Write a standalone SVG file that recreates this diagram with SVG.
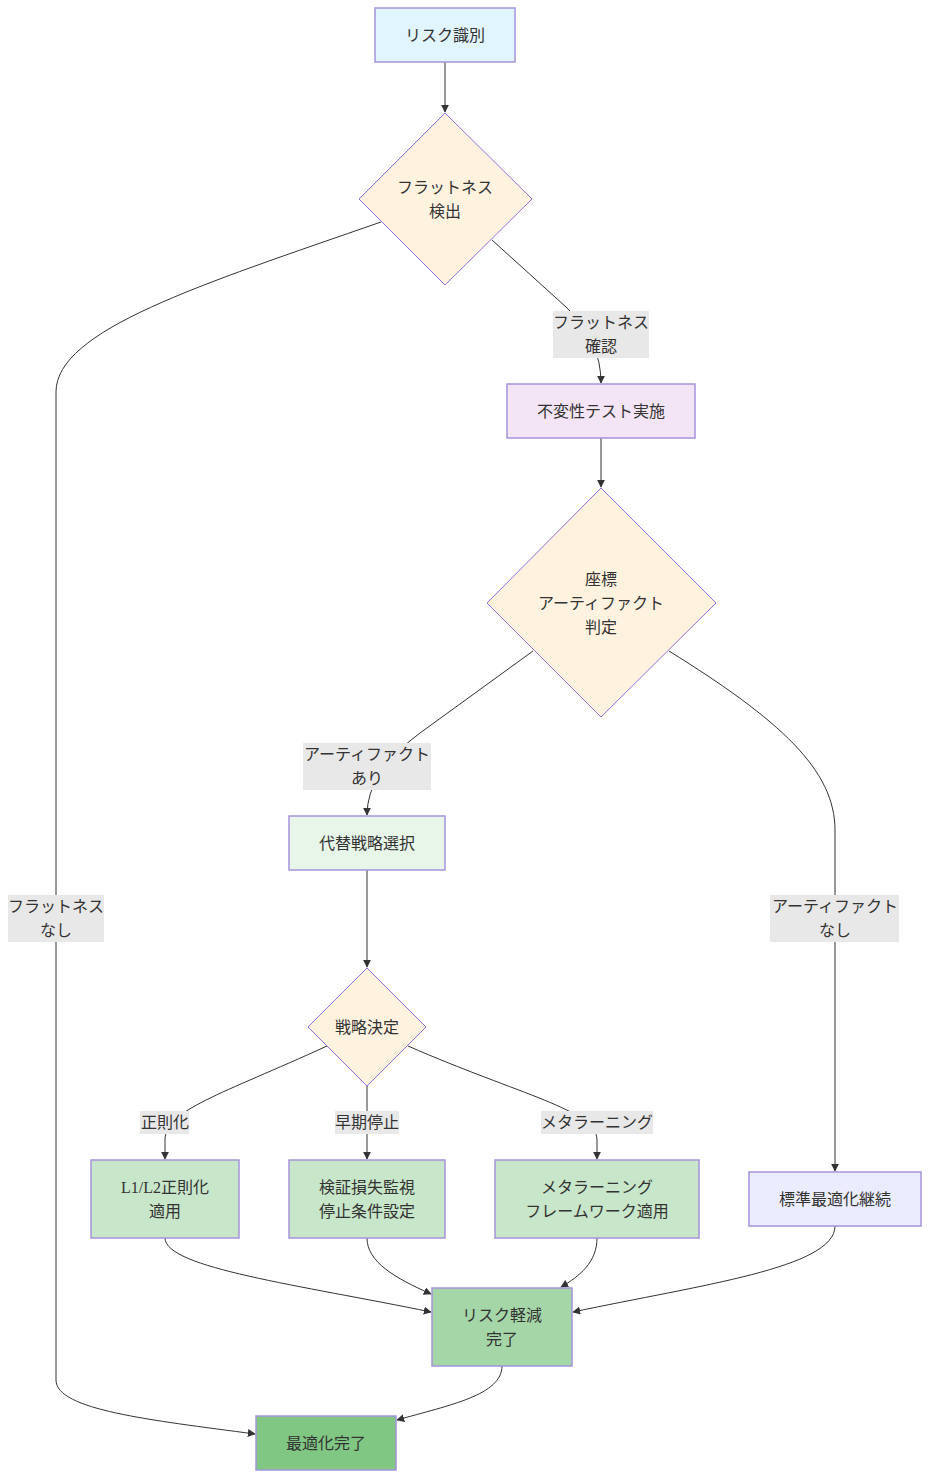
<svg xmlns="http://www.w3.org/2000/svg" width="929" height="1478" viewBox="0 0 929 1478">
<defs>
<marker id="arr" viewBox="0 0 10 10" refX="9" refY="5" markerWidth="8" markerHeight="8" markerUnits="userSpaceOnUse" orient="auto">
<path d="M0,0 L10,5 L0,10 z" fill="#333"/>
</marker>
<style>
text{font-family:"Liberation Serif","Noto Sans CJK JP",serif;font-size:16px;fill:#333;text-anchor:middle;dominant-baseline:central}
.n{stroke:#a693dc;stroke-width:1.5}
polygon.n{stroke:#9370DB;stroke-width:1}
.e{fill:none;stroke:#333;stroke-width:1;marker-end:url(#arr)}
.lb{fill:#e8e8e8}
</style>
</defs>
<rect width="929" height="1478" fill="#fff"/>
<g id="edges">
<path class="e" d="M445,62 L445,112"/>
<path class="e" d="M492,240 L566,307 Q601,340 601,383"/>
<path class="e" d="M381,222 C200,285 56,330 56,392 L56,1380 C56,1410 150,1420 255,1434"/>
<path class="e" d="M601,438 L601,487"/>
<path class="e" d="M533,651 L420,733 Q367,772 367,815"/>
<path class="e" d="M669,651 C780,720 835,770 835,830 L835,1171"/>
<path class="e" d="M367,870 L367,967"/>
<path class="e" d="M327,1046 C220,1095 165,1110 165,1140 L165,1159"/>
<path class="e" d="M367,1086 L367,1159"/>
<path class="e" d="M408,1046 C520,1095 597,1110 597,1140 L597,1159"/>
<path class="e" d="M165,1238 C165,1268 300,1285 431,1312"/>
<path class="e" d="M367,1238 C367,1262 395,1278 431,1294"/>
<path class="e" d="M597,1238 C597,1262 580,1276 561,1287"/>
<path class="e" d="M835,1226 C835,1268 700,1285 573,1312"/>
<path class="e" d="M502,1366 C502,1395 450,1405 397,1420"/>
</g>
<g id="edge-labels">
<rect class="lb" x="553" y="311" width="96" height="47"/>
<text x="601" y="322">フラットネス</text><text x="601" y="346">確認</text>
<rect class="lb" x="303" y="743" width="128" height="47"/>
<text x="367" y="754">アーティファクト</text><text x="367" y="778">あり</text>
<rect class="lb" x="770" y="895" width="129" height="47"/>
<text x="835" y="906">アーティファクト</text><text x="835" y="930">なし</text>
<rect class="lb" x="8" y="895" width="96" height="47"/>
<text x="56" y="906">フラットネス</text><text x="56" y="930">なし</text>
<rect class="lb" x="140" y="1111" width="49" height="23"/>
<text x="165" y="1122">正則化</text>
<rect class="lb" x="335" y="1111" width="64" height="23"/>
<text x="367" y="1122">早期停止</text>
<rect class="lb" x="541" y="1111" width="112" height="23"/>
<text x="597" y="1122">メタラーニング</text>
</g>
<g id="n-risk"><rect class="n" x="375" y="8" width="140" height="54" fill="#e1f5fe"/><text x="445" y="35">リスク識別</text></g>
<g id="n-flat"><polygon class="n" points="445,113 532,199 445,285 359,199" fill="#fff3e0"/><text x="445" y="187">フラットネス</text><text x="445" y="211">検出</text></g>
<g id="n-inv"><rect class="n" x="507" y="384" width="188" height="54" fill="#f3e5f5"/><text x="601" y="411">不変性テスト実施</text></g>
<g id="n-art"><polygon class="n" points="601,488 716,603 601,717 487,603" fill="#fff3e0"/><text x="601" y="579">座標</text><text x="601" y="603">アーティファクト</text><text x="601" y="627">判定</text></g>
<g id="n-alt"><rect class="n" x="289" y="816" width="156" height="54" fill="#e8f5e9"/><text x="367" y="843">代替戦略選択</text></g>
<g id="n-dec"><polygon class="n" points="367,968 426,1027 367,1086 308,1027" fill="#fff3e0"/><text x="367" y="1027">戦略決定</text></g>
<g id="n-l1l2"><rect class="n" x="91" y="1160" width="148" height="78" fill="#c8e6c9"/><text x="165" y="1187">L1/L2正則化</text><text x="165" y="1211">適用</text></g>
<g id="n-early"><rect class="n" x="289" y="1160" width="156" height="78" fill="#c8e6c9"/><text x="367" y="1187">検証損失監視</text><text x="367" y="1211">停止条件設定</text></g>
<g id="n-meta"><rect class="n" x="495" y="1160" width="204" height="78" fill="#c8e6c9"/><text x="597" y="1187">メタラーニング</text><text x="597" y="1211">フレームワーク適用</text></g>
<g id="n-std"><rect class="n" x="749" y="1172" width="172" height="54" fill="#ececff"/><text x="835" y="1199">標準最適化継続</text></g>
<g id="n-mit"><rect class="n" x="432" y="1288" width="140" height="78" fill="#a5d6a7"/><text x="502" y="1315">リスク軽減</text><text x="502" y="1339">完了</text></g>
<g id="n-done"><rect class="n" x="256" y="1416" width="140" height="54" fill="#81c784"/><text x="326" y="1443">最適化完了</text></g>
</svg>
